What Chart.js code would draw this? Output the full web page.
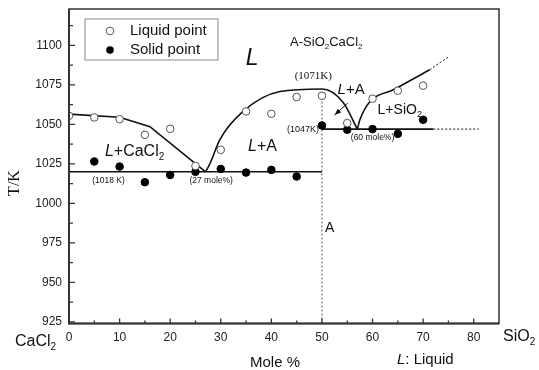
<!DOCTYPE html>
<html>
<head>
<meta charset="utf-8">
<script src="https://cdn.jsdelivr.net/npm/chart.js@4/dist/chart.umd.min.js"></script>
<style>
  body { margin: 0; background: #fff; }
  #wrap { width: 539px; height: 370px; }
</style>
</head>
<body>
<div id="wrap"><canvas id="phase_chart" width="539" height="370"></canvas></div>
<script>
// measured points (mole % SiO2, T/K)
const liquid_x = [0, 5, 10, 15, 20, 25, 30, 35, 40, 45, 50, 55, 60, 65, 70];
const liquid_t = [1055.4, 1054.4, 1053.3, 1043.4, 1047.2, 1023.7, 1033.9, 1058.2, 1056.7, 1067.3, 1068.1, 1050.8, 1066.2, 1071.3, 1074.5];
const solid_x = [5, 10, 15, 20, 25, 30, 35, 40, 45, 50, 55, 60, 65, 70];
const solid_t = [1026.5, 1023.3, 1013.4, 1018, 1020, 1021.8, 1019.5, 1021.2, 1017, 1049.3, 1046.6, 1047, 1044, 1052.9];

// phase boundaries
const liq_left_x = [0, 10, 16, 27];
const liq_left_t = [1056.5, 1054.5, 1048.5, 1020];
const liq_mid_x = [27, 27.9, 29.8, 34.4, 41.7, 50, 54.2, 57];
const liq_mid_t = [1020, 1025.4, 1040.2, 1058.2, 1070.8, 1072.4, 1063.9, 1047];
const liq_right_x = [57, 57.5, 59.5, 64.1, 71.3];
const liq_right_t = [1047, 1052.9, 1064.5, 1071.9, 1084.6];
const liq_ext_x = [71.3, 75];
const liq_ext_t = [1084.6, 1092.7];
const sol_low_x = [0, 50];
const sol_low_t = [1020, 1020];
const sol_high_x = [50, 72];
const sol_high_t = [1047, 1047];
const sol_ext_x = [72, 81];
const sol_ext_t = [1047, 1047];
const comp_a_x = [50, 50];
const comp_a_t = [924, 1069];

const x_ticks = [0, 10, 20, 30, 40, 50, 60, 70, 80];
const y_ticks = [925, 950, 975, 1000, 1025, 1050, 1075, 1100];

const SANS = "Arial, 'Liberation Sans', sans-serif";
const SERIF = "'Times New Roman', 'Liberation Serif', serif";

function pts(xs, ys) {
    return xs.map((x, i) => ({x: x, y: ys[i]}));
}

function line_set(xs, ys, extra) {
    return Object.assign({
        data: pts(xs, ys),
        showLine: true,
        borderColor: '#111',
        borderWidth: 1.6,
        pointRadius: 0,
        tension: 0,
        fill: false
    }, extra || {});
}

// text with italic / subscript pieces: [text, flags]
function rich(ctx, x, y, parts, size, family, align) {
    const font_of = (f) => (f.includes('i') ? 'italic ' : '') + (f.includes('s') ? Math.round(size * 0.62) : size) + 'px ' + family;
    let w = 0;
    parts.forEach(p => { ctx.font = font_of(p[1] || ''); w += ctx.measureText(p[0]).width; });
    let cx = align === 'center' ? x - w / 2 : (align === 'right' ? x - w : x);
    ctx.textBaseline = 'middle';
    ctx.textAlign = 'left';
    parts.forEach(p => {
        const f = p[1] || '';
        ctx.font = font_of(f);
        ctx.fillText(p[0], cx, f.includes('s') ? y + size * 0.35 : y);
        cx += ctx.measureText(p[0]).width;
    });
}

const decor = {
    id: 'decor',
    afterDraw(chart) {
        const ctx = chart.ctx;
        const xs = chart.scales.x, ys = chart.scales.y;
        const a = chart.chartArea;
        const px = v => xs.getPixelForValue(v);
        const py = v => ys.getPixelForValue(v);
        ctx.save();

        // frame
        ctx.strokeStyle = '#333';
        ctx.lineWidth = 1.5;
        ctx.strokeRect(a.left, a.top, a.right - a.left, a.bottom - a.top);
        ctx.lineWidth = 2;
        ctx.beginPath();
        ctx.moveTo(a.left, a.top); ctx.lineTo(a.left, a.bottom); ctx.lineTo(a.right, a.bottom);
        ctx.stroke();

        // inward ticks
        ctx.lineWidth = 1.3;
        ctx.beginPath();
        for (let v = 0; v <= 80; v += 5) {
            const l = v % 10 === 0 ? 5 : 3;
            ctx.moveTo(px(v), a.bottom); ctx.lineTo(px(v), a.bottom - l);
        }
        for (let v = 925; v <= 1112.5; v += 12.5) {
            const l = (v - 925) % 25 === 0 ? 6 : 4;
            ctx.moveTo(a.left, py(v)); ctx.lineTo(a.left + l, py(v));
        }
        ctx.stroke();

        // legend
        const lx = a.left + 16, ly = a.top + 10;
        ctx.strokeStyle = '#888';
        ctx.lineWidth = 1;
        ctx.strokeRect(lx, ly, 133, 41);
        ctx.beginPath();
        ctx.arc(lx + 25, ly + 12, 3.8, 0, Math.PI * 2);
        ctx.fillStyle = '#fff'; ctx.fill();
        ctx.strokeStyle = '#555'; ctx.stroke();
        ctx.beginPath();
        ctx.arc(lx + 25, ly + 31, 3.8, 0, Math.PI * 2);
        ctx.fillStyle = '#000'; ctx.fill();
        ctx.fillStyle = '#111';
        rich(ctx, lx + 45, ly + 12, [['Liquid point']], 15, SANS, 'left');
        rich(ctx, lx + 45, ly + 31, [['Solid point']], 15, SANS, 'left');

        // region labels
        rich(ctx, px(36.2), py(1091.5), [['L', 'i']], 23, SANS, 'center');
        rich(ctx, px(43.7), py(1102), [['A-SiO'], ['2', 's'], ['CaCl'], ['2', 's']], 13, SANS, 'left');
        rich(ctx, px(48.3), py(1080.6), [['(1071K)']], 11, SERIF, 'center');
        rich(ctx, px(53.1), py(1071.8), [['L', 'i'], ['+A']], 15, SANS, 'left');
        rich(ctx, px(61.0), py(1059.1), [['L+SiO'], ['2', 's']], 14, SANS, 'left');
        rich(ctx, px(49.4), py(1046.5), [['(1047K)']], 9, SANS, 'right');
        rich(ctx, px(60.0), py(1041.4), [['(60 mole%)']], 8.5, SANS, 'center');
        rich(ctx, px(7.8), py(1014.6), [['(1018 K)']], 8.5, SANS, 'center');
        rich(ctx, px(28.1), py(1014.6), [['(27 mole%)']], 8.5, SANS, 'center');
        rich(ctx, px(7.1), py(1032.5), [['L', 'i'], ['+CaCl'], ['2', 's']], 16, SANS, 'left');
        rich(ctx, px(35.4), py(1035.7), [['L', 'i'], ['+A']], 16, SANS, 'left');
        rich(ctx, px(50.6), py(984.4), [['A']], 14, SANS, 'left');

        // arrow towards the liquidus
        const x1 = px(55.1), y1 = py(1063.5), x2 = px(52.5), y2 = py(1055.9);
        ctx.strokeStyle = '#111';
        ctx.lineWidth = 1;
        ctx.beginPath(); ctx.moveTo(x1, y1); ctx.lineTo(x2, y2); ctx.stroke();
        const ang = Math.atan2(y2 - y1, x2 - x1);
        ctx.beginPath();
        ctx.moveTo(x2, y2);
        ctx.lineTo(x2 - 7 * Math.cos(ang - 0.35), y2 - 7 * Math.sin(ang - 0.35));
        ctx.lineTo(x2 - 7 * Math.cos(ang + 0.35), y2 - 7 * Math.sin(ang + 0.35));
        ctx.closePath();
        ctx.fillStyle = '#111'; ctx.fill();

        // axis titles and end members
        ctx.fillStyle = '#111';
        rich(ctx, 15, 342, [['CaCl'], ['2', 's']], 16, SANS, 'left');
        rich(ctx, 503, 337, [['SiO'], ['2', 's']], 16, SANS, 'left');
        rich(ctx, 275, 363, [['Mole %']], 15, SANS, 'center');
        rich(ctx, 397, 360, [['L', 'i'], [': Liquid']], 15, SANS, 'left');
        ctx.translate(15, 183);
        ctx.rotate(-Math.PI / 2);
        rich(ctx, 0, 0, [['T/K']], 16, SERIF, 'center');
        ctx.restore();
    }
};

window.onload = function() {
    const ctx = document.getElementById('phase_chart').getContext('2d');
    new Chart(ctx, {
        type: 'scatter',
        data: {
            datasets: [
                {
                    label: 'Liquid point',
                    data: pts(liquid_x, liquid_t),
                    pointRadius: 3.8,
                    pointBackgroundColor: '#fff',
                    pointBorderColor: '#555',
                    pointBorderWidth: 1
                },
                {
                    label: 'Solid point',
                    data: pts(solid_x, solid_t),
                    pointRadius: 3.8,
                    pointBackgroundColor: '#000',
                    pointBorderColor: '#000',
                    pointBorderWidth: 1
                },
                line_set(liq_left_x, liq_left_t),
                line_set(liq_mid_x, liq_mid_t, {cubicInterpolationMode: 'monotone'}),
                line_set(liq_right_x, liq_right_t, {cubicInterpolationMode: 'monotone'}),
                line_set(liq_ext_x, liq_ext_t, {borderWidth: 1, borderDash: [2, 2]}),
                line_set(sol_low_x, sol_low_t),
                line_set(sol_high_x, sol_high_t),
                line_set(sol_ext_x, sol_ext_t, {borderWidth: 1, borderDash: [2, 2]}),
                line_set(comp_a_x, comp_a_t, {borderWidth: 1, borderColor: '#555', borderDash: [2, 2]})
            ]
        },
        options: {
            responsive: false,
            devicePixelRatio: 1,
            animation: false,
            layout: { padding: { top: 9, right: 40, left: 0, bottom: 0 } },
            plugins: {
                legend: { display: false },
                tooltip: { enabled: false }
            },
            scales: {
                x: {
                    type: 'linear',
                    min: 0,
                    max: 85,
                    afterBuildTicks: s => { s.ticks = x_ticks.map(v => ({value: v})); },
                    afterFit: s => { s.height = 46.5; s.paddingLeft = 0; s.paddingRight = 0; },
                    grid: { display: false, drawTicks: false },
                    border: { display: false },
                    ticks: { color: '#222', padding: 7, maxRotation: 0, autoSkip: false, callback: v => String(v), font: { family: SANS, size: 12 } }
                },
                y: {
                    min: 924,
                    max: 1123,
                    afterBuildTicks: s => { s.ticks = y_ticks.map(v => ({value: v})); },
                    afterFit: s => { s.width = 69; s.paddingTop = 0; s.paddingBottom = 0; },
                    grid: { display: false, drawTicks: false },
                    border: { display: false },
                    ticks: { color: '#222', padding: 7, autoSkip: false, callback: v => String(v), font: { family: SANS, size: 12 } }
                }
            }
        },
        plugins: [decor]
    });
};
</script>
</body>
</html>
